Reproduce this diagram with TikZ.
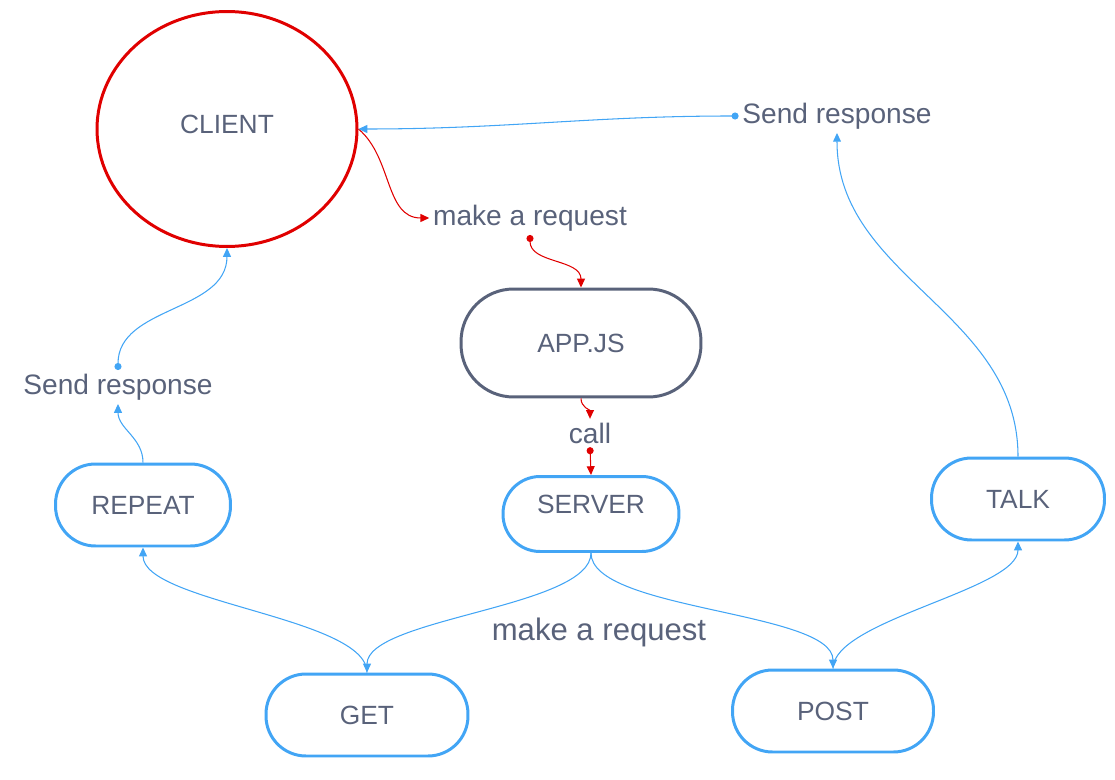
\documentclass[tikz,border=0pt]{standalone}
\usepackage{fontspec}
\setmainfont{Liberation Sans}
\usetikzlibrary{arrows.meta,shapes.geometric}
\definecolor{inkgrey}{HTML}{59627A}
\definecolor{flowblue}{HTML}{42A5F5}
\definecolor{flowred}{HTML}{E00000}
\tikzset{
  pill/.style={draw=flowblue, line width=1.7pt, rounded corners=0.8cm,
    minimum width=3.5cm, minimum height=1.64cm, text=inkgrey, font=\fontsize{15}{18}\selectfont},
  tag/.style={text=inkgrey, inner sep=2pt, font=\fontsize{16}{19}\selectfont},
  redlink/.style={draw=flowred, line width=0.6pt, -{Triangle[length=5pt,width=4.5pt]}},
  bluelink/.style={draw=flowblue, line width=0.6pt, -{Triangle[length=5pt,width=4.5pt]}},
  dotted start/.style={{Circle[length=4pt]}-{Triangle[length=5pt,width=4.5pt]}}
}

\begin{document}
\begin{tikzpicture}[x=0.02cm, y=-0.02cm]
		%%%%% START %%%%%
		\useasboundingbox (0, 0) rectangle (1115, 780);
		
		\node[ellipse, draw=flowred, line width=1.7pt, inner sep=0pt,
		  minimum width=5.2cm, minimum height=4.7cm, text=inkgrey, text depth=0.2cm,
		  font=\fontsize{15}{18}\selectfont] (client) at (227, 129) {CLIENT};
		
		\node[pill, draw=inkgrey, minimum width=4.8cm, minimum height=2.16cm,
		  rounded corners=1.05cm] (app) at (581, 343) {APP.JS};
		\node[pill, minimum width=3.52cm, minimum height=1.5cm, rounded corners=0.74cm,
		  text depth=0.4cm] (server) at (591, 514) {SERVER};
		\node[pill] (repeat) at (143, 505) {REPEAT};
		\node[pill, minimum width=3.46cm] (talk) at (1018, 499) {TALK};
		\node[pill, minimum width=4.04cm] (get) at (367, 715) {GET};
		\node[pill, minimum width=4.02cm] (post) at (833, 711) {POST};
		
		\node[tag] (askapp) at (530, 218) {make a request};
		\node[tag] (call) at (590, 433) {call};
		\node[tag, font=\fontsize{17.7}{21}\selectfont] (askroute) at (599, 632) {make a request};
		\node[tag] (sendleft) at (118, 387) {Send response};
		\node[tag] (sendright) at (837, 116) {Send response};
		
		% request path
		\draw[redlink] (client.east) to[out=-40, in=180] (askapp.west);
		\draw[redlink, dotted start] (askapp.south) to[out=-90, in=90] (app.north);
		\draw[redlink] (app.south) to[out=-90, in=90] (call.north);
		\draw[redlink, dotted start] (call.south) -- (server.north);
		
		\draw[bluelink] (server.south) to[out=-90, in=90, looseness=0.55] (get.north);
		\draw[bluelink] (server.south) to[out=-90, in=90, looseness=0.55] (post.north);
		
		% response path
		\draw[bluelink] (get.north) to[out=90, in=-90, looseness=0.55] (repeat.south);
		\draw[bluelink] (repeat.north) to[out=90, in=-90] (sendleft.south);
		\draw[bluelink, dotted start] (sendleft.north) to[out=90, in=-90] (client.south);
		
		\draw[bluelink] (post.north) to[out=90, in=-90, looseness=0.55] (talk.south);
		\draw[bluelink] (talk.north) to[out=90, in=-90] (sendright.south);
		\draw[bluelink, dotted start] (sendright.west) to[out=180, in=0] (client.east);
		%%%%% END %%%%%
\end{tikzpicture}
\end{document}
